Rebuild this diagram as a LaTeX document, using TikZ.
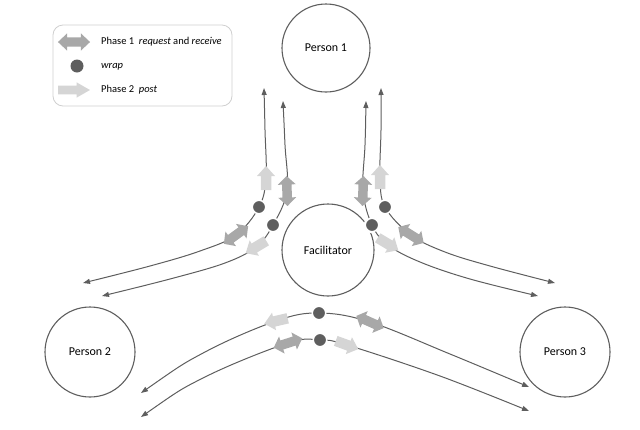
\documentclass[tikz,border=0pt]{standalone}
\usepackage{fontspec}
\setmainfont{Carlito}
\usetikzlibrary{arrows.meta}
\definecolor{linec}{HTML}{5E5E5E}
\definecolor{dblc}{HTML}{A8A8A8}
\definecolor{ltc}{HTML}{D5D5D5}
\definecolor{dotc}{HTML}{5E5E5E}
\definecolor{boxc}{HTML}{CFCFCF}
\tikzset{
 person/.style={circle, draw=linec, line width=1.1pt, inner sep=0pt, font=\fontsize{12}{14}\selectfont},
 flow/.style={draw=linec, line width=1pt, {Triangle[length=7pt,width=5pt]}-{Triangle[length=7pt,width=5pt]}, smooth, tension=0.6},
 wrapdot/.style={circle, fill=dotc, draw=white, line width=1.5pt, minimum size=15pt, inner sep=0pt},
 legendbox/.style={draw=boxc, line width=0.8pt, rounded corners=10pt, minimum width=179pt, minimum height=81pt, inner sep=0pt},
 legendtext/.style={anchor=west, inner sep=0pt, font=\fontsize{10.5}{12}\selectfont},
 fatdouble/.pic={\fill[dblc] (-15,0) -- (-6.5,-9) -- (-6.5,-4.75) -- (6.5,-4.75) -- (6.5,-9) -- (15,0) -- (6.5,9) -- (6.5,4.75) -- (-6.5,4.75) -- (-6.5,9) -- cycle;},
 fatsingle/.pic={\fill[ltc] (-12,-5.25) -- (2,-5.25) -- (2,-9) -- (12,0) -- (2,9) -- (2,5.25) -- (-12,5.25) -- cycle;},
}
\begin{document}
\begin{tikzpicture}[x=1pt, y=-1pt]
\useasboundingbox (0,0) rectangle (640,429);

% people
\node[person, minimum size=88pt] (p1) at (326,48) {Person 1};
\node[person, minimum size=92pt] (fac) at (328,250) {Facilitator};
\node[person, minimum size=90pt] (p2) at (90,352) {Person 2};
\node[person, minimum size=90pt] (p3) at (565,352) {Person 3};

% legend
\node[legendbox] (legend) at (142.5,65.5) {};
\pic[xscale=1.07, yscale=0.95] at (74,42) {fatdouble};
\node[wrapdot, draw=none, minimum size=13pt] (ldot) at (77,66) {};
\pic[xscale=1.33, yscale=0.85] at (74,90) {fatsingle};
\node[legendtext] (l1) at (101,42) {Phase 1\ \ \textit{request} and \textit{receive}};
\node[legendtext] (l2) at (101,67) {\textit{wrap}};
\node[legendtext] (l3) at (101,90) {Phase 2\ \ \textit{post}};

% wrap dots
\node[wrapdot] (dlo) at (259,207) {};
\node[wrapdot] (dli) at (273,225) {};
\node[wrapdot] (dri) at (372,225) {};
\node[wrapdot] (dro) at (385,207) {};
\node[wrapdot] (dbu) at (319,313) {};
\node[wrapdot] (dbl) at (320,340) {};

% end points
\coordinate (lo1) at (264,88);   \coordinate (lo2) at (83,283);
\coordinate (li1) at (283,101);  \coordinate (li2) at (102,296);
\coordinate (ri1) at (366,101);  \coordinate (ri2) at (538,296);
\coordinate (ro1) at (381,88);   \coordinate (ro2) at (555,283);
\coordinate (bu1) at (141,393);  \coordinate (bu2) at (529,387);
\coordinate (bl1) at (141,417);  \coordinate (bl2) at (529,411);

% flows
\draw[flow] plot coordinates {(lo1) (265,130) (266,178) (dlo.center) (236,235) (200,251) (150,266) (lo2)};
\draw[flow] plot coordinates {(li1) (285,145) (287,191) (dli.center) (256,247) (225,263) (170,279) (li2)};
\draw[flow] plot coordinates {(ri1) (365,145) (363,191) (dri.center) (388,245) (420,262) (470,279) (ri2)};
\draw[flow] plot coordinates {(ro1) (381,130) (380,177) (dro.center) (411,235) (445,252) (490,266) (ro2)};
\draw[flow] plot coordinates {(bu1) (205,352) (276,321) (dbu.center) (370,322) (450,354) (bu2)};
\draw[flow] plot coordinates {(bl1) (205,377) (288,343) (dbl.center) (347,345) (440,376) (bl2)};

% redraw dots on top
\foreach \d in {dlo,dli,dri,dro,dbu,dbl} \fill[dotc, draw=white, line width=1.5pt] (\d.center) circle (6.75pt);

% fat arrows
\pic[rotate=90] at (266,178) {fatsingle};
\pic[rotate=36] at (236,235) {fatdouble};
\pic[rotate=92] at (287,191) {fatdouble};
\pic[rotate=211] at (256,247) {fatsingle};
\pic[rotate=88] at (363,191) {fatdouble};
\pic[rotate=-31] at (388,244) {fatsingle};
\pic[rotate=90] at (380,177) {fatsingle};
\pic[rotate=-32] at (411,235) {fatdouble};
\pic[rotate=193] at (276,321) {fatsingle};
\pic[rotate=-24] at (370,322) {fatdouble};
\pic[rotate=18] at (288,343) {fatdouble};
\pic[rotate=-20] at (347,345) {fatsingle};
\end{tikzpicture}
\end{document}
